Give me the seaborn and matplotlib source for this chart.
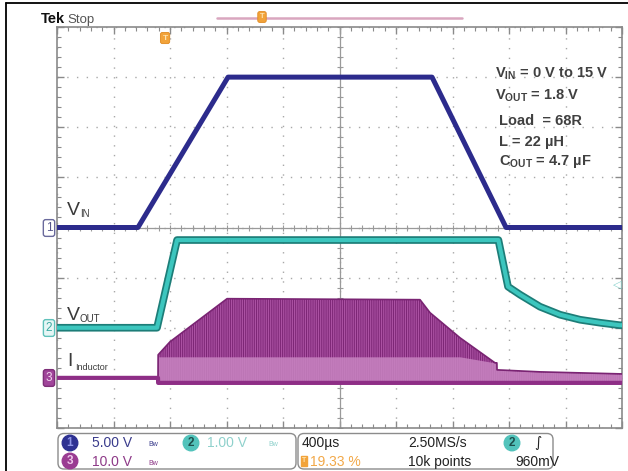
import numpy as np
import matplotlib
matplotlib.use("Agg")
import matplotlib.pyplot as plt
from matplotlib.patches import FancyBboxPatch
from matplotlib.lines import Line2D
import seaborn as sns

# ---------------- data ----------------
vin_time_us = [0, 573, 1211, 2655, 3179, 4000]
vin_volts = [0, 0, 15, 15, 0, 0]

vout_time_us = [0, 708, 850, 3125, 3193, 3278, 3419, 3561, 3703, 3845, 3986, 4000]
vout_volts = [0, 0, 1.75, 1.75, 0.82, 0.66, 0.42, 0.26, 0.16, 0.10, 0.05, 0.05]

ind_time_us = [0, 715, 716, 800, 1204, 2570, 2641, 2853, 3101, 3114, 3115, 3419, 3986, 4000]
ind_peak = [0, 0, 4.6, 7.2, 15.8, 15.6, 13.0, 8.0, 3.0, 3.0, 1.6, 1.2, 0.8, 0.8]
ind_valley = [0, 0, -1.0, -1.0, -1.0, -1.0, -1.0, -1.0, -1.0, -1.0, -1.0, -1.0, -1.0, -1.0]

ch_scale = {"ch1": 5.0, "ch2": 1.0, "ch3": 10.0}     # V/div
ch_offset = {"ch1": 4.0, "ch2": 2.0, "ch3": 1.0}     # div from bottom

annotation_lines = [r"V$_{\mathbf{IN}}$ = 0 V to 15 V",
                    r"V$_{\mathbf{OUT}}$ = 1.8 V",
                    "Load  = 68R",
                    "L = 22 µH",
                    r"C$_{\mathbf{OUT}}$ = 4.7 µF"]

# ---------------- style ----------------
sns.set_theme(style="white")
plt.rcParams["font.family"] = ["Liberation Sans", "DejaVu Sans"]
plt.rcParams["mathtext.fontset"] = "custom"
plt.rcParams["mathtext.rm"] = "Liberation Sans"
plt.rcParams["mathtext.bf"] = "Liberation Sans:bold"
plt.rcParams["mathtext.it"] = "Liberation Sans:italic"
plt.rcParams["hatch.linewidth"] = 0.7

W, H = 628, 471
fig = plt.figure(figsize=(W / 100, H / 100), dpi=100)
fig.patch.set_facecolor("white")
ax = fig.add_axes([57 / W, 43 / H, 565 / W, 401 / H])
ax.set_facecolor("white")


def to_div(vals, ch):
    return ch_offset[ch] + np.asarray(vals, dtype=float) / ch_scale[ch]


def ftext(xpx, ypx, s, **kw):
    kw.setdefault("va", "baseline")
    return fig.text(xpx / W, 1 - ypx / H, s, **kw)


ax.set_xlim(0, 4000)
ax.set_ylim(0, 8)
ax.set_xticks(np.arange(0, 4001, 400))
ax.set_xticks(np.arange(0, 4001, 80), minor=True)
ax.set_yticks(np.arange(0, 9, 1))
ax.set_yticks(np.arange(0, 8.01, 0.2), minor=True)
ax.tick_params(which="both", direction="in", top=True, right=True, bottom=True, left=True,
               labelbottom=False, labelleft=False, color="#8a8a8a")
ax.tick_params(which="major", length=5, width=1)
ax.tick_params(which="minor", length=3, width=0.8)
ax.grid(True, which="major", color="#a8a8a8", linestyle=(0, (1, 6)), linewidth=1.0)
for sp in ax.spines.values():
    sp.set_color("#8a8a8a")
    sp.set_linewidth(1.2)

# centre cross-hair with minor ticks
ax.axhline(4, color="#9a9a9a", lw=0.9, zorder=1)
ax.axvline(2000, color="#9a9a9a", lw=0.9, zorder=1)
mx = np.arange(0, 4001, 80)
ax.plot(mx, np.full_like(mx, 4.0, dtype=float), ls="none", marker="|", ms=4, color="#9a9a9a", mew=0.8, zorder=1)
my = np.arange(0, 8.01, 0.2)
ax.plot(np.full_like(my, 2000.0), my, ls="none", marker="_", ms=4, color="#9a9a9a", mew=0.8, zorder=1)

# ---------------- inductor current (ch3) ----------------
t3 = np.asarray(ind_time_us, dtype=float)
hi3 = to_div(ind_peak, "ch3")
lo3 = to_div(ind_valley, "ch3")
ax.fill_between(t3, lo3, hi3, facecolor="#b258aa", edgecolor="#7c2575", hatch="|" * 9,
                linewidth=0, zorder=3)
ax.fill_between(t3, lo3, np.minimum(hi3, ch_offset["ch3"] + 0.42), facecolor="#c884c1",
                alpha=0.85, linewidth=0, zorder=3)
sns.lineplot(x=t3, y=hi3, ax=ax, color="#7a2473", lw=1.2, estimator=None, sort=False,
             legend=False, zorder=4)
sns.lineplot(x=t3, y=lo3, ax=ax, color="#8e2e86", lw=3.0, estimator=None, sort=False,
             legend=False, zorder=4)

# ---------------- Vout (ch2) ----------------
t2 = np.asarray(vout_time_us, dtype=float)
y2 = to_div(vout_volts, "ch2")
sns.lineplot(x=t2, y=y2, ax=ax, color="#1d7d78", lw=5.5, estimator=None, sort=False,
             legend=False, zorder=5)
sns.lineplot(x=t2, y=y2, ax=ax, color="#3cc6be", lw=3.0, estimator=None, sort=False,
             legend=False, zorder=5)

# ---------------- Vin (ch1) ----------------
t1 = np.asarray(vin_time_us, dtype=float)
y1 = to_div(vin_volts, "ch1")
sns.lineplot(x=t1, y=y1, ax=ax, color="#2c2b8c", lw=3.6, estimator=None, sort=False,
             legend=False, zorder=6)

# trigger level arrow (ch2, 960 mV)
ax.text(0.992, ch_offset["ch2"] + 0.96 / ch_scale["ch2"] - 0.1, "◁", transform=ax.get_yaxis_transform(),
        ha="center", va="center", fontsize=8, color="#86d2cc", family=["DejaVu Sans"], zorder=7)
# trigger position marker
ax.text(765, 7.78, "T", ha="center", va="center", fontsize=6, fontweight="bold", color="#fde3b0",
        bbox=dict(boxstyle="round,pad=0.25", fc="#f2a33a", ec="#e08a20", lw=0.6), zorder=7)

# ---------------- trace labels ----------------
lab = "#3a3a3a"
ftext(67, 215, "V", fontsize=14, color=lab)
ftext(80, 217, "IN", fontsize=7, color=lab)
ftext(67, 320, "V", fontsize=14, color=lab)
ftext(80, 322, "OUT", fontsize=7, color=lab)
ftext(67, 366, "I", fontsize=14, color=lab)
ftext(75, 370, "Inductor", fontsize=6.5, color=lab)

# annotation block
ann_y = [78, 100, 125, 146, 165]
ann_x = [495, 495, 499, 499, 499]
for s, xx, yy in zip(annotation_lines, ann_x, ann_y):
    ftext(xx, yy, s, fontsize=10.5, fontweight="bold", color="#404040")

# channel tags on the left
tags = [("1", 228, "white", "#6a6a9c", "#55558a"),
        ("2", 328, "#e6f6f5", "#5fc1ba", "#3aa8a1"),
        ("3", 378, "#a0459a", "#7e2f78", "#f2d8ef")]
for s, ypx, fc, ec, tc in tags:
    ftext(49, ypx, s, fontsize=8.5, color=tc, ha="center", va="center",
          bbox=dict(boxstyle="round,pad=0.2", fc=fc, ec=ec, lw=1.0))

# ---------------- header ----------------
ftext(41, 23, "Tek", fontsize=10.5, fontweight="bold", color="#111111")
ftext(67, 23, "Stop", fontsize=9.5, color="#555555")
fig.add_artist(Line2D([217 / W, 462 / W], [1 - 18 / H] * 2, color="#d9a6bf", lw=1.8))
ftext(262, 17, "T", fontsize=5.5, fontweight="bold", color="#fde3b0", ha="center", va="center",
      bbox=dict(boxstyle="round,pad=0.25", fc="#f2a33a", ec="#e08a20", lw=0.6))

# outer frame lines
fig.add_artist(Line2D([5.5 / W, 5.5 / W], [0, 1 - 3 / H], color="black", lw=1.3))
fig.add_artist(Line2D([5.5 / W, 1], [1 - 3 / H] * 2, color="black", lw=1.3))

# ---------------- status bar ----------------
for x0, x1 in [(58, 296), (298, 553)]:
    fig.add_artist(FancyBboxPatch((x0 / 100, (H - 469) / 100), (x1 - x0) / 100, 0.355,
                                  boxstyle="round,pad=0,rounding_size=0.06",
                                  transform=fig.dpi_scale_trans, fc="white", ec="#8c8c8c", lw=1.0))

def circ(xpx, ypx, s, fc, tc):
    ftext(xpx, ypx, s, fontsize=8.5, fontweight="bold", color=tc, ha="center", va="center",
          bbox=dict(boxstyle="circle,pad=0.15", fc=fc, ec=fc))

r1, r2 = 447, 466
circ(70, 443, "1", "#2e3192", "#8f95e6")
ftext(92, r1, "5.00 V", fontsize=10, color="#3a3c8c")
ftext(148, r1 - 1, "Bw", fontsize=5, color="#3a3c8c")
circ(191, 443, "2", "#52c3bb", "#1d4f4c")
ftext(207, r1, "1.00 V", fontsize=10, color="#8fd1cc")
ftext(268, r1 - 1, "Bw", fontsize=5, color="#8fd1cc")
circ(70, 461, "3", "#9a3c92", "#f0c8ec")
ftext(92, r2, "10.0 V", fontsize=10, color="#8e3a88")
ftext(148, r2 - 1, "Bw", fontsize=5, color="#8e3a88")

ftext(302, r1, "400µs", fontsize=10, color="#222222")
ftext(408, r1, "2.50MS/s", fontsize=10, color="#222222")
circ(512, 443, "2", "#52c3bb", "#1d4f4c")
ftext(534, r1, "∫", fontsize=10, color="#222222", family=["DejaVu Sans"])
ftext(304, 461, "T", fontsize=5, fontweight="bold", color="#fde3b0", ha="center", va="center",
      bbox=dict(boxstyle="square,pad=0.15", fc="#f2a33a", ec="#f2a33a"))
ftext(310, r2, "19.33 %", fontsize=10, color="#f2a848")
ftext(408, r2, "10k points", fontsize=10, color="#222222")
ftext(515, r2, "960mV", fontsize=10, color="#222222")

fig.savefig("out.png", dpi=100, facecolor="white")
